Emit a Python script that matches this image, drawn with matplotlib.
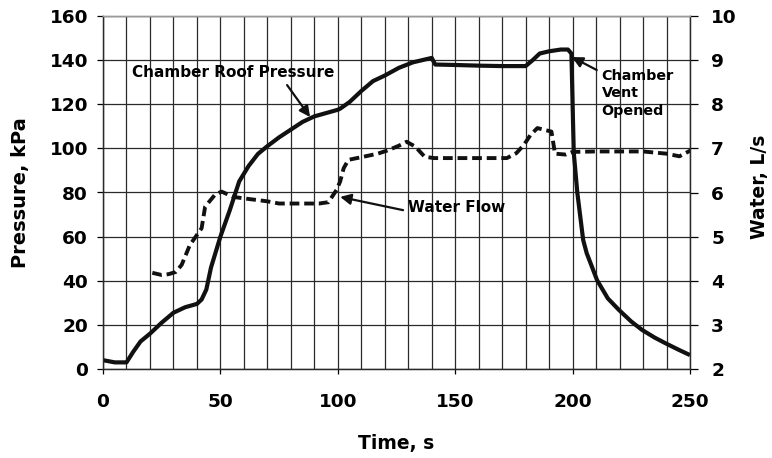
import matplotlib
matplotlib.use("Agg")
import matplotlib.pyplot as plt
from matplotlib.ticker import MultipleLocator

# ---- data ----
time_p = [0, 5, 10, 13, 16, 20, 25, 30, 35, 40, 42, 44, 46, 48, 50, 54, 58, 62, 66, 70,
          75, 80, 85, 90, 95, 100, 101, 105, 110, 115, 120, 126, 132, 138, 140, 141.5,
          150, 160, 170, 180, 183, 186, 190, 195, 198, 199.5, 200, 200.5, 202, 204.5,
          206, 208, 210.4, 215, 219.8, 225, 229.6, 235, 239.7, 245, 250]
pressure = [4, 3, 3, 8, 12.5, 16, 21, 25.5, 28, 29.5, 31.5, 36, 46, 53, 60, 72, 85, 92, 97.5, 101,
            105, 108.5, 112, 114.5, 116, 117.5, 118, 121, 126, 130.5, 133, 136.5, 139, 140.5, 141, 138,
            137.8, 137.5, 137.3, 137.3, 140, 143, 144, 144.8, 144.8, 143, 120, 98, 80, 58.5,
            52.5, 47, 40.3, 32, 26.7, 21.5, 17.7, 14.2, 11.6, 8.8, 6.3]

time_w = [21, 25, 28, 31, 33.5, 37, 42, 43.5, 47.7, 50.5, 55.5, 61, 70, 75, 85, 92, 96,
          99.5, 101, 102.5, 104.5, 110, 117, 121, 126, 129.3, 133, 137, 141, 150, 160, 172,
          176, 179.3, 182, 185, 191, 192.5, 197, 200, 210, 220, 230, 240, 245.5, 250.5]
water = [4.18, 4.13, 4.15, 4.2, 4.36, 4.81, 5.19, 5.68, 5.95, 6.02, 5.9, 5.86, 5.8, 5.75, 5.75, 5.75, 5.78,
         6.06, 6.25, 6.55, 6.74, 6.8, 6.88, 6.95, 7.06, 7.15, 7.04, 6.81, 6.78, 6.78, 6.78, 6.78,
         6.89, 7.08, 7.3, 7.46, 7.38, 6.88, 6.86, 6.92, 6.93, 6.93, 6.93, 6.88, 6.82, 6.96]

x_ticks = [0, 50, 100, 150, 200, 250]
p_ticks = [0, 20, 40, 60, 80, 100, 120, 140, 160]
w_ticks = [2, 3, 4, 5, 6, 7, 8, 9, 10]

plt.rcParams['font.family'] = ['DejaVu Sans']
plt.rcParams['font.weight'] = 'bold'
plt.rcParams['lines.scale_dashes'] = False

fig = plt.figure(figsize=(7.72, 4.58), dpi=100)
ax = fig.add_axes([103/772, 1-369/458, 587/772, 353/458])
ax2 = ax.twinx()

gridc = '#2a2a2a'
ax.set_xlim(0, 250)
ax.set_ylim(0, 160)
ax2.set_ylim(2, 10)

ax.xaxis.set_major_locator(MultipleLocator(50))
ax.xaxis.set_minor_locator(MultipleLocator(10))
ax.set_xticks(x_ticks)
ax.set_yticks(p_ticks)
ax2.set_yticks(w_ticks)

ax.grid(True, which='both', axis='x', color=gridc, lw=0.9)
ax.grid(True, which='major', axis='y', color=gridc, lw=0.9)
ax.set_axisbelow(True)

ax.tick_params(axis='x', which='major', length=3.6, width=0.9, pad=14, labelsize=13.3)
ax.tick_params(axis='x', which='minor', length=0)
ax.tick_params(axis='y', length=4.3, width=0.9, pad=6.5, labelsize=13.3)
ax2.tick_params(axis='y', length=5.8, width=0.9, pad=9.4, labelsize=13.3)

for a in (ax, ax2):
    for s in ('left', 'right', 'bottom'):
        a.spines[s].set_color(gridc)
        a.spines[s].set_linewidth(0.9)
    a.spines['top'].set_color('#9a9a9a')
    a.spines['top'].set_linewidth(1.0)
    a.spines['top'].set_linestyle((0, (1, 1)))

ax.plot(time_p, pressure, color='#111111', lw=3.0, solid_capstyle='butt', zorder=3)
ax2.plot(time_w, water, color='#111111', lw=2.8, dashes=(7, 3.5), dash_capstyle='butt', zorder=3)

ax.set_xlabel('Time, s', fontsize=13.5, fontweight='bold')
ax.xaxis.set_label_coords(0.5, -0.21)
ax.xaxis.label.set_va('center')
ax.set_ylabel('Pressure, kPa', fontsize=14, fontweight='bold')
ax.yaxis.set_label_coords(-0.14, 0.5)
ax.yaxis.label.set_va('center')
ax2.set_ylabel('Water, L/s', fontsize=13.5, fontweight='bold')
ax2.yaxis.set_label_coords(1.119, 0.515)
ax2.yaxis.label.set_va('center')

arrow = dict(arrowstyle='-|>', color='#111111', lw=1.6, mutation_scale=16, shrinkA=0, shrinkB=0)
ax.text(55.4, 134.6, 'Chamber Roof Pressure', fontsize=11, fontweight='bold',
        ha='center', va='center', zorder=5)
ax.annotate('', xy=(88.2, 114.2), xytext=(78.4, 128.7), arrowprops=arrow, zorder=5)

ax.text(130, 73, 'Water Flow', fontsize=11, fontweight='bold', ha='left', va='center', zorder=5)
ax.annotate('', xy=(101, 78), xytext=(127.8, 72), arrowprops=arrow, zorder=5)

ax.text(212.4, 125, 'Chamber\nVent\nOpened', fontsize=10.3, fontweight='bold',
        ha='left', va='center', linespacing=1.3, zorder=5)
ax.annotate('', xy=(199.7, 141.4), xytext=(210.3, 135.5), arrowprops=arrow, zorder=5)

fig.savefig('out.png', dpi=100)
